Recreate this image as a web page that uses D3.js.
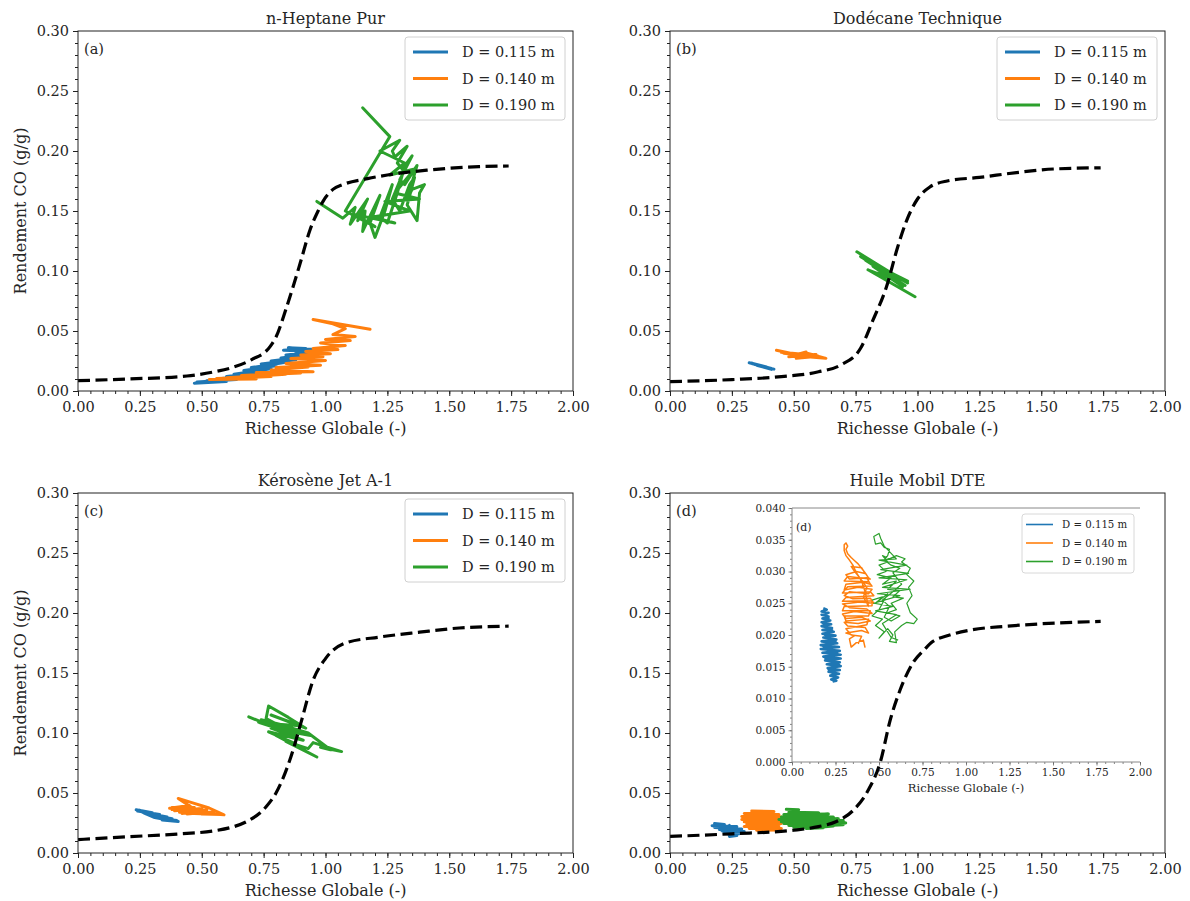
<!DOCTYPE html>
<html><head><meta charset="utf-8">
<script src="https://cdn.jsdelivr.net/npm/d3@7"></script>
<style>
body{margin:0;background:#fff}
svg{display:block}
</style>
</head><body><svg id="c" width="1190" height="901"></svg>
<script>
// ---------------- DATA ----------------
const panelTitles = ["n-Heptane Pur","Dodécane Technique","Kérosène Jet A-1","Huile Mobil DTE"];
const panelTags = ["(a)","(b)","(c)","(d)"];
const seriesLabels = ["D = 0.115 m","D = 0.140 m","D = 0.190 m"];
const seriesColors = ["#1f77b4","#ff7f0e","#2ca02c"];
const xTickValues = [0,0.25,0.5,0.75,1,1.25,1.5,1.75,2];
const yTickValues = [0,0.05,0.1,0.15,0.2,0.25,0.3];
const insetYTickValues = [0,0.005,0.01,0.015,0.02,0.025,0.03,0.035,0.04];
const xLabel = "Richesse Globale (-)";
const yLabel = "Rendement CO (g/g)";

// equilibrium curves (dashed)
const curveA = [[0,0.0086],[0.2,0.0100],[0.44,0.0125],[0.55,0.016],[0.63,0.020],[0.70,0.026],[0.776,0.037],[0.80,0.045],[0.843,0.070],[0.897,0.106],[0.937,0.134],[0.97,0.150],[0.99,0.158],[1.03,0.168],[1.07,0.172],[1.17,0.177],[1.25,0.180],[1.41,0.184],[1.62,0.187],[1.74,0.1875]];
const curveB = [[0,0.0078],[0.25,0.0095],[0.45,0.0120],[0.60,0.0160],[0.69,0.0217],[0.77,0.0356],[0.82,0.059],[0.875,0.087],[0.92,0.120],[0.956,0.142],[1.0,0.160],[1.05,0.170],[1.12,0.175],[1.25,0.178],[1.40,0.182],[1.55,0.185],[1.74,0.186]];
const curveC = [[0,0.0112],[0.2,0.0135],[0.4,0.0158],[0.55,0.0185],[0.63,0.022],[0.68,0.026],[0.76,0.0385],[0.80,0.050],[0.86,0.080],[0.90,0.108],[0.95,0.144],[1.0,0.162],[1.08,0.175],[1.22,0.180],[1.38,0.184],[1.54,0.1875],[1.74,0.189]];
const curveD = [[0,0.0138],[0.25,0.0160],[0.5,0.0190],[0.6,0.0220],[0.67,0.026],[0.74,0.0355],[0.80,0.052],[0.85,0.076],[0.89,0.111],[0.93,0.136],[0.98,0.158],[1.03,0.170],[1.06,0.176],[1.12,0.181],[1.22,0.186],[1.36,0.189],[1.50,0.191],[1.74,0.193]];

// (a) n-Heptane
const heptane115 = [[0.47,0.0065],[0.60,0.0080],[0.48,0.0075],[0.64,0.0095],[0.52,0.0085],[0.62,0.0110],[0.56,0.0100],[0.70,0.0130],[0.60,0.0120],[0.74,0.0155],[0.63,0.0140],[0.78,0.0185],[0.67,0.0170],[0.80,0.0210],[0.70,0.0195],[0.84,0.0240],[0.74,0.0225],[0.88,0.0260],[0.78,0.0250],[0.92,0.0285],[0.82,0.0275],[0.95,0.0310],[0.84,0.0300],[0.97,0.0330],[0.83,0.0340],[0.92,0.0355],[0.85,0.0360],[0.96,0.0345],[0.88,0.0325]];
const heptane140 = [[0.53,0.0095],[0.72,0.0100],[0.56,0.0105],[0.78,0.0120],[0.60,0.0110],[0.84,0.0140],[0.66,0.0130],[0.90,0.0150],[0.72,0.0155],[0.95,0.0160],[0.78,0.0175],[0.93,0.0200],[0.80,0.0195],[0.98,0.0215],[0.84,0.0230],[1.00,0.0255],[0.86,0.0270],[0.99,0.0285],[0.90,0.0300],[1.02,0.0310],[0.92,0.0330],[1.05,0.0345],[0.95,0.0355],[1.08,0.0380],[0.98,0.0400],[1.10,0.0420],[1.00,0.0430],[1.12,0.0455],[1.03,0.0470],[1.08,0.0520],[1.03,0.0560],[0.95,0.0595],[1.18,0.0515]];
const heptane190 = [[0.965,0.158],[1.07,0.144],[1.12,0.153],[1.10,0.139],[1.17,0.160],[1.13,0.142],[1.16,0.150],[1.15,0.133],[1.22,0.163],[1.18,0.140],[1.20,0.128],[1.24,0.150],[1.27,0.172],[1.22,0.145],[1.25,0.140],[1.29,0.165],[1.31,0.180],[1.27,0.160],[1.30,0.150],[1.34,0.172],[1.36,0.178],[1.33,0.155],[1.37,0.142],[1.38,0.165],[1.40,0.172],[1.35,0.168],[1.33,0.160],[1.37,0.188],[1.32,0.172],[1.30,0.176],[1.35,0.196],[1.31,0.185],[1.29,0.190],[1.33,0.204],[1.28,0.195],[1.27,0.200],[1.30,0.209],[1.22,0.200],[1.32,0.190],[1.26,0.180],[1.36,0.185],[1.28,0.165],[1.38,0.160],[1.24,0.158],[1.34,0.150],[1.19,0.145],[1.28,0.140],[1.12,0.147],[1.20,0.137],[1.08,0.150],[1.26,0.212],[1.15,0.236]];

// (b) Dodécane
const dodecane115 = [[0.32,0.0235],[0.41,0.0188],[0.33,0.0228],[0.42,0.0182],[0.34,0.0222],[0.40,0.0192],[0.33,0.0232],[0.39,0.0200],[0.35,0.0215],[0.41,0.0180]];
const dodecane140 = [[0.43,0.0340],[0.52,0.0300],[0.45,0.0322],[0.57,0.0300],[0.48,0.0285],[0.55,0.0325],[0.51,0.0272],[0.60,0.0290],[0.55,0.0318],[0.63,0.0272],[0.53,0.0290],[0.59,0.0305],[0.50,0.0295],[0.61,0.0280],[0.46,0.0315]];
const dodecane190 = [[0.755,0.116],[0.96,0.090],[0.77,0.112],[0.95,0.088],[0.79,0.109],[0.96,0.0915],[0.82,0.104],[0.94,0.087],[0.86,0.100],[0.92,0.094],[0.84,0.098],[0.90,0.093],[0.80,0.101],[0.99,0.0785]];

// (c) Kérosène
const kerosene115 = [[0.235,0.0360],[0.30,0.0335],[0.24,0.0350],[0.33,0.0320],[0.26,0.0340],[0.36,0.0300],[0.28,0.0325],[0.38,0.0285],[0.30,0.0310],[0.40,0.0270],[0.33,0.0290],[0.405,0.0262],[0.34,0.0275],[0.38,0.0268],[0.31,0.0295],[0.27,0.0330],[0.25,0.0355]];
const kerosene140 = [[0.37,0.0372],[0.45,0.0395],[0.38,0.0362],[0.47,0.0380],[0.39,0.0352],[0.50,0.0370],[0.41,0.0340],[0.52,0.0360],[0.42,0.0330],[0.48,0.0345],[0.44,0.0325],[0.55,0.0345],[0.47,0.0330],[0.58,0.0320],[0.50,0.0325],[0.405,0.0455],[0.46,0.0420],[0.53,0.0375],[0.59,0.0318],[0.52,0.0330],[0.43,0.0370],[0.38,0.0380]];
const kerosene190 = [[0.69,0.1135],[0.80,0.1040],[0.73,0.1090],[0.88,0.0990],[0.76,0.1120],[0.77,0.1225],[0.85,0.1130],[0.92,0.1040],[0.78,0.1150],[0.90,0.1060],[0.76,0.1080],[0.94,0.0980],[0.78,0.1040],[0.91,0.0940],[0.77,0.1010],[0.88,0.0910],[0.80,0.0980],[0.965,0.0800],[0.84,0.0930],[0.93,0.0870],[0.95,0.0920],[1.065,0.0845],[0.98,0.0880],[1.02,0.0860],[0.93,0.1000],[0.80,0.1080],[0.86,0.1050],[0.74,0.1110]];

// (d) Huile Mobil DTE
const huile115 = [[0.18,0.0245],[0.22,0.0238],[0.17,0.0228],[0.27,0.0220],[0.18,0.0212],[0.29,0.0200],[0.20,0.0195],[0.30,0.0180],[0.22,0.0178],[0.28,0.0160],[0.23,0.0162],[0.27,0.0145],[0.24,0.0138],[0.26,0.0150],[0.21,0.0185],[0.24,0.0230]];
const huile140 = [[0.33,0.0350],[0.42,0.0345],[0.30,0.0330],[0.44,0.0320],[0.29,0.0305],[0.45,0.0300],[0.29,0.0280],[0.46,0.0285],[0.30,0.0260],[0.46,0.0265],[0.31,0.0240],[0.45,0.0245],[0.30,0.0220],[0.44,0.0225],[0.32,0.0205],[0.45,0.0205],[0.35,0.0190],[0.43,0.0192]];
const huile190 = [[0.47,0.0365],[0.52,0.0360],[0.48,0.0340],[0.60,0.0335],[0.46,0.0320],[0.64,0.0325],[0.45,0.0300],[0.66,0.0300],[0.44,0.0280],[0.68,0.0285],[0.45,0.0260],[0.70,0.0270],[0.46,0.0245],[0.71,0.0250],[0.48,0.0230],[0.70,0.0235],[0.50,0.0215],[0.62,0.0210],[0.55,0.0205],[0.66,0.0225]];

// (d) inset, zoomed
const insetHuile115 = [[0.18,0.0242],[0.20,0.0240],[0.17,0.0237],[0.21,0.0235],[0.17,0.0232],[0.21,0.0229],[0.175,0.0226],[0.22,0.0223],[0.17,0.0220],[0.225,0.0217],[0.17,0.0214],[0.23,0.0211],[0.175,0.0208],[0.24,0.0205],[0.175,0.0202],[0.25,0.0199],[0.18,0.0196],[0.255,0.0193],[0.17,0.0190],[0.26,0.0187],[0.165,0.0184],[0.27,0.0181],[0.165,0.0178],[0.275,0.0175],[0.175,0.0172],[0.28,0.0169],[0.18,0.0166],[0.28,0.0163],[0.19,0.0160],[0.275,0.0157],[0.20,0.0154],[0.28,0.0151],[0.205,0.0148],[0.275,0.0145],[0.21,0.0142],[0.27,0.0139],[0.22,0.0136],[0.265,0.0133],[0.225,0.0130],[0.255,0.0128],[0.24,0.0127],[0.25,0.0135],[0.21,0.0146],[0.27,0.0154],[0.19,0.0164],[0.26,0.0172],[0.18,0.0182],[0.25,0.0190],[0.19,0.0200],[0.23,0.0208],[0.18,0.0218],[0.21,0.0226],[0.19,0.0236]];
const insetHuile140 = [[0.42,0.0180],[0.41,0.0192],[0.37,0.0188],[0.34,0.0181],[0.33,0.0194],[0.36,0.0199],[0.31,0.0203],[0.40,0.0207],[0.44,0.0203],[0.42,0.0212],[0.32,0.0214],[0.30,0.0220],[0.38,0.0218],[0.45,0.0222],[0.40,0.0228],[0.31,0.0226],[0.29,0.0233],[0.36,0.0237],[0.46,0.0234],[0.43,0.0241],[0.33,0.0243],[0.29,0.0249],[0.39,0.0252],[0.47,0.0250],[0.45,0.0258],[0.35,0.0257],[0.30,0.0262],[0.33,0.0268],[0.44,0.0265],[0.46,0.0272],[0.38,0.0275],[0.30,0.0271],[0.31,0.0280],[0.41,0.0283],[0.45,0.0280],[0.43,0.0290],[0.33,0.0288],[0.31,0.0295],[0.37,0.0300],[0.42,0.0297],[0.40,0.0306],[0.34,0.0308],[0.36,0.0300],[0.39,0.0290],[0.43,0.0275],[0.41,0.0260],[0.44,0.0245],[0.42,0.0268],[0.40,0.0285],[0.37,0.0298],[0.35,0.0310],[0.33,0.0318],[0.31,0.0325],[0.30,0.0333],[0.30,0.0342],[0.31,0.0345],[0.32,0.0340],[0.31,0.0335],[0.32,0.0328],[0.34,0.0322],[0.36,0.0317],[0.38,0.0312],[0.40,0.0305],[0.42,0.0298],[0.44,0.0290],[0.45,0.0288],[0.32,0.0292],[0.30,0.0285],[0.44,0.0284],[0.46,0.0277],[0.32,0.0276],[0.29,0.0266],[0.45,0.0268],[0.47,0.0262],[0.31,0.0259],[0.29,0.0253],[0.46,0.0254],[0.46,0.0246],[0.30,0.0245],[0.29,0.0238],[0.45,0.0238],[0.44,0.0230],[0.30,0.0230],[0.31,0.0222],[0.44,0.0225],[0.43,0.0216],[0.31,0.0210],[0.34,0.0200],[0.40,0.0198],[0.38,0.0186]];
const insetHuile190 = [[0.46,0.0255],[0.52,0.0260],[0.48,0.0250],[0.55,0.0265],[0.50,0.0240],[0.46,0.0230],[0.52,0.0225],[0.48,0.0215],[0.53,0.0205],[0.50,0.0195],[0.55,0.0210],[0.58,0.0200],[0.56,0.0190],[0.60,0.0188],[0.59,0.0205],[0.63,0.0215],[0.66,0.0220],[0.70,0.0218],[0.72,0.0225],[0.68,0.0235],[0.66,0.0250],[0.69,0.0262],[0.67,0.0275],[0.70,0.0285],[0.66,0.0295],[0.68,0.0305],[0.63,0.0315],[0.65,0.0320],[0.60,0.0325],[0.56,0.0320],[0.52,0.0325],[0.55,0.0315],[0.50,0.0310],[0.54,0.0300],[0.49,0.0295],[0.57,0.0290],[0.52,0.0280],[0.60,0.0285],[0.55,0.0272],[0.62,0.0270],[0.58,0.0260],[0.64,0.0258],[0.57,0.0250],[0.60,0.0240],[0.55,0.0235],[0.62,0.0230],[0.57,0.0222],[0.53,0.0228],[0.56,0.0245],[0.52,0.0255],[0.58,0.0268],[0.63,0.0280],[0.58,0.0298],[0.62,0.0305],[0.57,0.0310],[0.53,0.0318],[0.55,0.0325],[0.56,0.0335],[0.53,0.0338],[0.51,0.0345],[0.48,0.0343],[0.47,0.0355],[0.50,0.0360],[0.51,0.0352],[0.53,0.0340],[0.60,0.0320],[0.50,0.0318],[0.66,0.0310],[0.51,0.0303],[0.67,0.0297],[0.50,0.0290],[0.66,0.0287],[0.52,0.0275],[0.68,0.0272],[0.49,0.0265],[0.62,0.0262],[0.47,0.0250],[0.58,0.0245],[0.48,0.0238],[0.60,0.0232],[0.52,0.0218],[0.57,0.0196],[0.61,0.0192]];

// ---------------- DRAWING ----------------
const FONT = "'DejaVu Serif', serif";
const TXT = "#262626";
const svg = d3.select("#c");

const panels = [
  {title:panelTitles[0], tag:panelTags[0], curve:curveA, series:[heptane115,heptane140,heptane190], box:[78,573,31,391], ylab:true, legend:true},
  {title:panelTitles[1], tag:panelTags[1], curve:curveB, series:[dodecane115,dodecane140,dodecane190], box:[670,1165,31,391], ylab:false, legend:true},
  {title:panelTitles[2], tag:panelTags[2], curve:curveC, series:[kerosene115,kerosene140,kerosene190], box:[78,573,493,853], ylab:true, legend:true},
  {title:panelTitles[3], tag:panelTags[3], curve:curveD, series:[huile115,huile140,huile190], box:[670,1165,493,853], ylab:false, legend:false, inset:true}
];

function drawAxes(g, x, y, o){
  const st = s => { s.select(".domain").remove(); s.attr("font-family",FONT).attr("font-size",o.fs).attr("color",o.tickColor); s.selectAll("text").attr("fill",TXT); };
  g.append("g").attr("transform",`translate(0,${o.b})`)
    .call(d3.axisBottom(x).tickValues(o.xMinor).tickSize(o.minor).tickFormat("")).call(st);
  g.append("g").attr("transform",`translate(0,${o.b})`)
    .call(d3.axisBottom(x).tickValues(o.xMajor).tickSize(o.major).tickPadding(o.xpad).tickFormat(d3.format(".2f"))).call(st);
  g.append("g").attr("transform",`translate(${o.l},0)`)
    .call(d3.axisLeft(y).tickValues(o.yMinor).tickSize(o.minor).tickFormat("")).call(st);
  g.append("g").attr("transform",`translate(${o.l},0)`)
    .call(d3.axisLeft(y).tickValues(o.yMajor).tickSize(o.major).tickPadding(o.ypad).tickFormat(d3.format(o.yfmt))).call(st);
  g.selectAll(".tick line").attr("stroke-width",o.tw);
}

const line = (x,y) => d3.line().x(d=>x(d[0])).y(d=>y(d[1])).curve(d3.curveLinear);

panels.forEach((p,i)=>{
  const [l,r,t,b] = p.box;
  const x = d3.scaleLinear().domain([0,2]).range([l,r]);
  const y = d3.scaleLinear().domain([0,0.3]).range([b,t]);
  const g = svg.append("g");
  const cid = "clip"+i;
  svg.append("defs").append("clipPath").attr("id",cid).append("rect").attr("x",l).attr("y",t).attr("width",r-l).attr("height",b-t);
  const dg = g.append("g").attr("clip-path",`url(#${cid})`);
  p.series.forEach((s,k)=>{
    dg.append("path").datum(s).attr("d",line(x,y)).attr("fill","none")
      .attr("stroke",seriesColors[k]).attr("stroke-width",3).attr("stroke-linejoin","round").attr("stroke-linecap","round");
  });
  dg.append("path").datum(p.curve).attr("d",d3.line().x(d=>x(d[0])).y(d=>y(d[1])).curve(d3.curveMonotoneX))
    .attr("fill","none").attr("stroke","#000").attr("stroke-width",3.2).attr("stroke-dasharray","12,5.5");

  drawAxes(g,x,y,{l:l,b:b,fs:14.5,tickColor:"#222",major:5,minor:3,tw:1,xpad:6,ypad:4,yfmt:".2f",
    xMajor:xTickValues, xMinor:d3.range(0,2.0001,0.05),
    yMajor:yTickValues, yMinor:d3.range(0,0.30001,0.01)});
  g.append("rect").attr("x",l).attr("y",t).attr("width",r-l).attr("height",b-t)
    .attr("fill","none").attr("stroke","#222").attr("stroke-width",1);

  g.append("text").attr("x",(l+r)/2).attr("y",t-7).attr("text-anchor","middle")
    .attr("font-family",FONT).attr("font-size",16).attr("fill",TXT).text(p.title);
  g.append("text").attr("x",(l+r)/2).attr("y",b+43).attr("text-anchor","middle")
    .attr("font-family",FONT).attr("font-size",16).attr("fill",TXT).text(xLabel);
  if(p.ylab){
    g.append("text").attr("transform",`translate(${l-52},${(t+b)/2}) rotate(-90)`).attr("text-anchor","middle")
      .attr("font-family",FONT).attr("font-size",16).attr("fill",TXT).text(yLabel);
  }
  g.append("text").attr("x",l+6).attr("y",t+23).attr("font-family",FONT).attr("font-size",14.5).attr("fill",TXT).text(p.tag);

  if(p.legend){
    const lg = g.append("g").attr("transform",`translate(${r-168},${t+6})`);
    lg.append("rect").attr("width",160).attr("height",83).attr("rx",3).attr("fill","#fff").attr("fill-opacity",0.8).attr("stroke","#d0d0d0");
    seriesLabels.forEach((s,k)=>{
      const yy = 15 + k*26.5;
      lg.append("line").attr("x1",8).attr("x2",43).attr("y1",yy).attr("y2",yy).attr("stroke",seriesColors[k]).attr("stroke-width",3);
      lg.append("text").attr("x",57).attr("y",yy+5).attr("font-family",FONT).attr("font-size",14.5).attr("fill",TXT).text(s);
    });
  }

  if(p.inset){
    const il=792, ir=1140, it=508, ib=762;
    const xi = d3.scaleLinear().domain([0,2]).range([il,ir]);
    const yi = d3.scaleLinear().domain([0,0.04]).range([ib,it]);
    const ig = svg.append("g");
    svg.append("defs").append("clipPath").attr("id","clipI").append("rect").attr("x",il).attr("y",it).attr("width",ir-il).attr("height",ib-it);
    const idg = ig.append("g").attr("clip-path","url(#clipI)");
    [insetHuile115,insetHuile140,insetHuile190].forEach((s,k)=>{
      idg.append("path").datum(s).attr("d",line(xi,yi)).attr("fill","none")
        .attr("stroke",seriesColors[k]).attr("stroke-width",k===0?2.6:(k===1?1.5:1.2)).attr("stroke-linejoin","round");
    });
    drawAxes(ig,xi,yi,{l:il,b:ib,fs:10.5,tickColor:"#666",major:3.5,minor:2,tw:0.8,xpad:3,ypad:3,yfmt:".3f",
      xMajor:xTickValues, xMinor:d3.range(0,2.0001,0.05),
      yMajor:insetYTickValues, yMinor:d3.range(0,0.04001,0.001)});
    ig.append("path").attr("d",`M${il},${ib}V${it}H${ir}M${il},${ib}H${ir}`).attr("fill","none").attr("stroke","#888").attr("stroke-width",1);
    ig.append("text").attr("x",(il+ir)/2).attr("y",ib+30).attr("text-anchor","middle")
      .attr("font-family",FONT).attr("font-size",11.5).attr("fill",TXT).text(xLabel);
    ig.append("text").attr("x",il+4).attr("y",it+23).attr("font-family",FONT).attr("font-size",11).attr("fill",TXT).text(p.tag);
    const ilg = ig.append("g").attr("transform",`translate(${ir-118},${it+6})`);
    ilg.append("rect").attr("width",112).attr("height",59).attr("rx",3).attr("fill","#fff").attr("fill-opacity",0.8).attr("stroke","#d8d8d8");
    seriesLabels.forEach((s,k)=>{
      const yy = 10.5 + k*18.5;
      ilg.append("line").attr("x1",4).attr("x2",31).attr("y1",yy).attr("y2",yy).attr("stroke",seriesColors[k]).attr("stroke-width",1.6);
      ilg.append("text").attr("x",40).attr("y",yy+3.5).attr("font-family",FONT).attr("font-size",10.2).attr("fill",TXT).text(s);
    });
  }
});
</script>
</body></html>
